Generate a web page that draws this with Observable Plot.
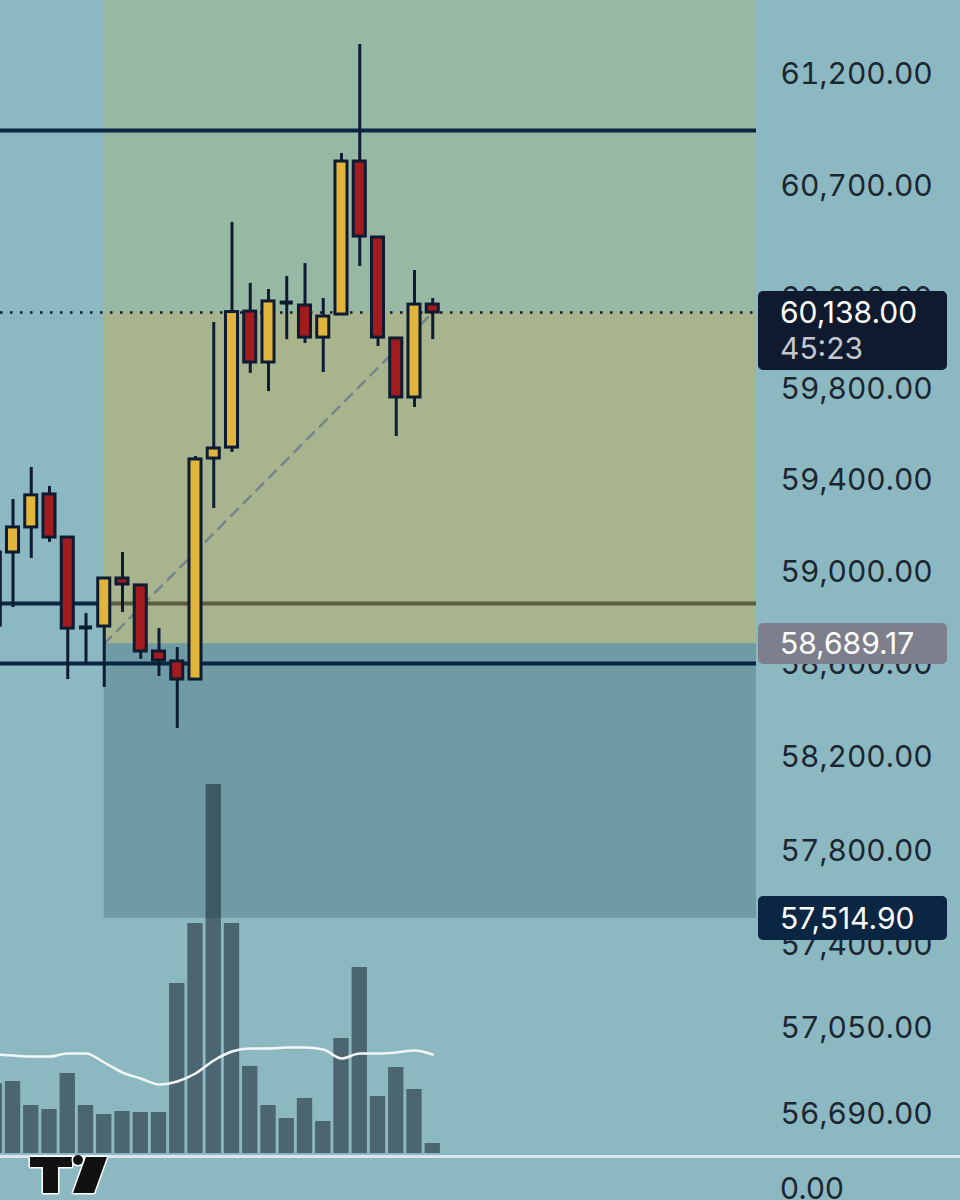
<!DOCTYPE html>
<html><head><meta charset="utf-8">
<script src="https://cdn.jsdelivr.net/npm/d3@7"></script>
<script src="https://cdn.jsdelivr.net/npm/@observablehq/plot@0.6"></script>
<style>
html,body{margin:0;padding:0;background:#8bb8c1;}
#wrap{position:relative;width:960px;height:1200px;overflow:hidden;background:#8bb8c1;font-family:Inter,"Noto Sans",sans-serif;}
#wrap svg.plotlayer{position:absolute;left:0;top:0;}
.lbl{position:absolute;left:758px;width:189px;border-radius:5px;color:#fff;font-size:30px;box-sizing:border-box;padding-left:22px;white-space:nowrap;}
.sep{position:absolute;left:0;top:1155px;width:960px;height:3px;background:#dde7eb;}
.pane0{position:absolute;left:780px;top:1170px;font-size:30px;line-height:36px;color:#1b2631;}
.logo{position:absolute;left:0;top:1155px;}
</style></head><body><div id="wrap"></div>
<script>
// ---- data ----
const candleIndex = [-1,0,1,2,3,4,5,6,7,8,9,10,11,12,13,14,15,16,17,18,19,20,21,22,23];
const openPrice  = [58768,59085,59194,59338,59150,58760,58764,58972,58942,58656,58613,58535,59495,59543,60142,59917,60182,60169,60027,60129,60810,60471,60023,59763,60173];
const highPrice  = [59085,59316,59456,59373,59150,58820,58976,59085,58942,58755,58673,59504,60094,60538,60267,60240,60298,60355,60200,60846,61336,60471,60023,60324,60200];
const lowPrice   = [58768,58846,59059,59129,58535,58600,58501,58825,58622,58548,58325,58535,59277,59522,59869,59789,60018,60001,59873,60129,60342,59988,59592,59719,60018];
const closePrice = [59085,59194,59334,59150,58755,58760,58972,58946,58656,58617,58535,59491,59539,60140,59917,60187,60182,60027,60120,60810,60475,60027,59763,60173,60138];
const volume     = [70,72,48,44,80,48,39,42,41,41,170,230,369,230,87,48,35,55,32,115,186,57,86,64,10];
const volumeMA   = [99,98,97,97,100,100,91,81,75,69,72,80,93,102,105,105,106,106,104,95,100,100,101,103,99];
const priceTicks = [61200,60700,60200,59800,59400,59000,58600,58200,57800,57400,57050,56690];
const levelLines = [60949,58864,58604];
const currentPrice = 60138, countdown = "45:23";
const entryPrice = 58689.17, stopPrice = 57514.90, targetPrice = 61900;
const positionStart = 5, currentIndex = 23;
const visibleIndex = [-0.685, 40.74];
const visiblePrice = [56333, 61535];
const volumeDomain = [0, 400];

// ---- styles ----
const navy = "#0d1b33", lineNavy = "#0c2644", yellow = "#e1b43b", red = "#a21c1e";
const fmt = d3.format(",.2f");

const candles = candleIndex.map((i, k) => ({i, open: openPrice[k], high: highPrice[k], low: lowPrice[k], close: closePrice[k], vol: volume[k], ma: volumeMA[k]}));
const bodies = candles.filter(d => d.open !== d.close);
const dojis = candles.filter(d => d.open === d.close);

const wrap = document.getElementById("wrap");

// volume layer (below)
const volPlot = Plot.plot({
  width: 960, height: 1200,
  marginLeft: 0, marginRight: 204, marginTop: 753, marginBottom: 47,
  style: {background: "transparent", overflow: "visible"},
  x: {domain: visibleIndex, axis: null},
  y: {domain: volumeDomain, axis: null},
  marks: [
    Plot.rectY(candles, {x1: d => d.i - 0.42, x2: d => d.i + 0.42, y: "vol", fill: "#4b6672"}),
    Plot.line(candles, {x: "i", y: "ma", stroke: "#f3f6f6", strokeWidth: 2.5, curve: "monotone-x"})
  ]
});
volPlot.classList.add("plotlayer");
wrap.appendChild(volPlot);

// price layer
const pricePlot = Plot.plot({
  width: 960, height: 1200,
  marginLeft: 0, marginRight: 204, marginTop: 0, marginBottom: 0,
  style: {background: "transparent", fontFamily: "Inter, 'Noto Sans', sans-serif", overflow: "visible"},
  x: {domain: visibleIndex, axis: null},
  y: {type: "log", domain: visiblePrice, axis: null},
  marks: [
    Plot.rect([{a: positionStart, b: visibleIndex[1], lo: currentPrice, hi: targetPrice}], {x1: "a", x2: "b", y1: "lo", y2: "hi", fill: "#97b8a3", clip: true}),
    Plot.ruleY(levelLines, {stroke: lineNavy, strokeWidth: 4}),
    Plot.rect([{a: positionStart, b: visibleIndex[1], lo: entryPrice, hi: currentPrice}], {x1: "a", x2: "b", y1: "lo", y2: "hi", fill: "rgb(209,174,65)", fillOpacity: 0.4}),
    Plot.rect([{a: positionStart, b: visibleIndex[1], lo: stopPrice, hi: entryPrice}], {x1: "a", x2: "b", y1: "lo", y2: "hi", fill: "rgb(0,40,55)", fillOpacity: 0.2}),
    Plot.ruleY([currentPrice], {stroke: navy, strokeWidth: 2.5, strokeDasharray: "2.5,7.5"}),
    Plot.line([{i: positionStart, p: entryPrice}, {i: currentIndex, p: currentPrice}], {x: "i", y: "p", stroke: "#76848d", strokeWidth: 2.5, strokeDasharray: "10,8"}),
    Plot.ruleX(candles, {x: "i", y1: "low", y2: "high", stroke: navy, strokeWidth: 3}),
    Plot.rect(bodies, {x1: d => d.i - 0.33, x2: d => d.i + 0.33, y1: "open", y2: "close", fill: d => d.close > d.open ? yellow : red, stroke: navy, strokeWidth: 3}),
    Plot.ruleY(dojis, {y: "open", x1: d => d.i - 0.36, x2: d => d.i + 0.36, stroke: navy, strokeWidth: 4}),
    Plot.axisY(priceTicks, {anchor: "right", tickSize: 0, tickPadding: 24, tickFormat: fmt, fontSize: 30, fill: "#1b2631", label: null})
  ]
});
pricePlot.classList.add("plotlayer");
wrap.appendChild(pricePlot);

// price labels on the axis
const ys = pricePlot.scale("y");
function addLabel(price, bg, lines, offsetTop, h) {
  const div = document.createElement("div");
  div.className = "lbl";
  div.style.background = bg;
  div.style.top = (ys.apply(price) - offsetTop) + "px";
  div.style.height = h + "px";
  lines.forEach(([txt, color, lh]) => {
    const s = document.createElement("div");
    s.textContent = txt; s.style.color = color; s.style.lineHeight = lh + "px"; s.style.height = lh + "px";
    div.appendChild(s);
  });
  wrap.appendChild(div);
}
addLabel(currentPrice, "#0f1a2e", [[fmt(currentPrice), "#ffffff", 42], [countdown, "#c3c7cf", 30]], 21, 79);
addLabel(entryPrice, "#7e7f8c", [[fmt(entryPrice), "#ffffff", 41]], 20, 41);
addLabel(stopPrice, "#0b2643", [[fmt(stopPrice), "#ffffff", 44]], 22, 44);

// pane separator, lower pane label and logo
const sep = document.createElement("div"); sep.className = "sep"; wrap.appendChild(sep);
const p0 = document.createElement("div"); p0.className = "pane0"; p0.textContent = fmt(0); wrap.appendChild(p0);
const logo = document.createElement("div"); logo.className = "logo";
logo.innerHTML = '<svg width="130" height="45" viewBox="0 0 130 45"><g fill="#111" stroke="#fff" stroke-width="3" paint-order="stroke" stroke-linejoin="round">' +
  '<polygon points="30,2 72,2 72,12 58,12 58,38 43,38 43,12 30,12"/>' +
  '<circle cx="78" cy="5" r="5"/>' +
  '<polygon points="86,2 107,2 94,38 73,38"/></g></svg>';
wrap.appendChild(logo);
</script>
</body></html>
